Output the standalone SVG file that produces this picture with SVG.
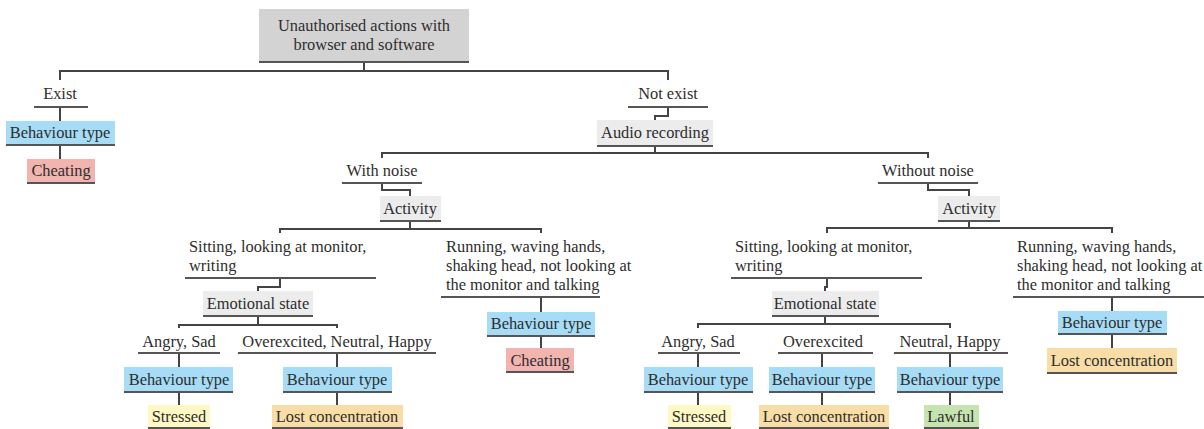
<svg xmlns="http://www.w3.org/2000/svg" width="1204" height="429" viewBox="0 0 1204 429">
<style>
text{font-family:"Liberation Serif","Times New Roman",serif;font-size:16.4px;fill:#2e2e2e}
.c{text-anchor:middle}
.ul{stroke:#555;stroke-width:2;fill:none}
.con{stroke:#444;stroke-width:2;fill:none}
.root{fill:#d3d3d3}
.gray{fill:#ececec}
.blue{fill:#a6dcf5}
.pink{fill:#f2b4ae}
.yel{fill:#fdf8c4}
.org{fill:#f8dea6}
.grn{fill:#c6e4b0}
</style>
<rect width="1204" height="429" fill="#fff"/>
<g id="connectors">
<path class="con" d="M364 62V71M60 80V71H668V80"/>
<path class="con" d="M60 107V121M60 145V159"/>
<path class="con" d="M668 107V116H655V120"/>
<path class="con" d="M655 146V153M382 158V153H928V158"/>
<path class="con" d="M382 183V190H410V196"/>
<path class="con" d="M410 221V229M280 233V229H541V233"/>
<path class="con" d="M280 278V287H258V291"/>
<path class="con" d="M541 297V312M541 336V348"/>
<path class="con" d="M258 316V325M179 328V325H337V328"/>
<path class="con" d="M179 353V367M179 392V405M337 353V367M337 392V405"/>
<path class="con" d="M928 183V190H969V196"/>
<path class="con" d="M969 221V228M827 233V228H1112V233"/>
<path class="con" d="M827 278V287H825V291"/>
<path class="con" d="M1112 297V311M1112 334V348"/>
<path class="con" d="M825 316V324M698 328V324H950V328"/>
<path class="con" d="M698 353V367M698 392V405M822 353V367M822 392V405M950 353V367M950 392V405"/>
</g>
<g id="root"><rect class="root" x="259" y="9" width="210" height="53"/><line class="ul" x1="259" y1="62" x2="469" y2="62"/><text class="c" x="364" y="31">Unauthorised actions with</text><text class="c" x="364" y="50">browser and software</text></g>
<g id="exist"><text class="c" x="60" y="99">Exist</text><line class="ul" x1="34" y1="107" x2="88" y2="107"/></g>
<g id="bt-exist"><rect class="blue" x="6" y="121" width="109" height="24"/><line class="ul" x1="6" y1="145" x2="115" y2="145"/><text class="c" x="60" y="138">Behaviour type</text></g>
<g id="cheat-exist"><rect class="pink" x="27" y="159" width="68" height="24"/><line class="ul" x1="27" y1="183" x2="95" y2="183"/><text class="c" x="61" y="176">Cheating</text></g>
<g id="notexist"><text class="c" x="668" y="99">Not exist</text><line class="ul" x1="628" y1="107" x2="708" y2="107"/></g>
<g id="audio"><rect class="gray" x="597" y="120" width="116" height="26"/><line class="ul" x1="597" y1="146" x2="713" y2="146"/><text class="c" x="655" y="138">Audio recording</text></g>
<g id="withnoise"><text class="c" x="382" y="176">With noise</text><line class="ul" x1="342" y1="183" x2="422" y2="183"/></g>
<g id="activity1"><rect class="gray" x="380" y="196" width="61" height="25"/><line class="ul" x1="380" y1="221" x2="441" y2="221"/><text class="c" x="410" y="214">Activity</text></g>
<g id="sit1"><text x="189" y="252">Sitting, looking at monitor,</text><text x="189" y="271">writing</text><line class="ul" x1="185" y1="278" x2="376" y2="278"/></g>
<g id="run1"><text x="446" y="252">Running, waving hands,</text><text x="446" y="271">shaking head, not looking at</text><text x="446" y="290">the monitor and talking</text><line class="ul" x1="441" y1="297" x2="600" y2="297"/></g>
<g id="emo1"><rect class="gray" x="203" y="291" width="110" height="25"/><line class="ul" x1="203" y1="316" x2="313" y2="316"/><text class="c" x="258" y="309">Emotional state</text></g>
<g id="angry1"><text class="c" x="179" y="347">Angry, Sad</text><line class="ul" x1="138" y1="353" x2="220" y2="353"/></g>
<g id="over1"><text class="c" x="337" y="347">Overexcited, Neutral, Happy</text><line class="ul" x1="238" y1="353" x2="436" y2="353"/></g>
<g id="bt-angry1"><rect class="blue" x="124" y="367" width="109" height="25"/><line class="ul" x1="124" y1="392" x2="233" y2="392"/><text class="c" x="179" y="385">Behaviour type</text></g>
<g id="bt-over1"><rect class="blue" x="283" y="367" width="109" height="25"/><line class="ul" x1="283" y1="392" x2="392" y2="392"/><text class="c" x="337" y="385">Behaviour type</text></g>
<g id="stressed1"><rect class="yel" x="148" y="405" width="62" height="23"/><line class="ul" x1="148" y1="428" x2="210" y2="428"/><text class="c" x="179" y="422">Stressed</text></g>
<g id="lost1"><rect class="org" x="272" y="405" width="131" height="23"/><line class="ul" x1="272" y1="428" x2="403" y2="428"/><text class="c" x="337" y="422">Lost concentration</text></g>
<g id="bt-run1"><rect class="blue" x="487" y="312" width="108" height="24"/><line class="ul" x1="487" y1="336" x2="595" y2="336"/><text class="c" x="541" y="329">Behaviour type</text></g>
<g id="cheat-run1"><rect class="pink" x="506" y="348" width="68" height="24"/><line class="ul" x1="506" y1="372" x2="574" y2="372"/><text class="c" x="540" y="366">Cheating</text></g>
<g id="withoutnoise"><text class="c" x="928" y="176">Without noise</text><line class="ul" x1="878" y1="183" x2="978" y2="183"/></g>
<g id="activity2"><rect class="gray" x="938" y="196" width="62" height="25"/><line class="ul" x1="938" y1="221" x2="1000" y2="221"/><text class="c" x="969" y="214">Activity</text></g>
<g id="sit2"><text x="735" y="252">Sitting, looking at monitor,</text><text x="735" y="271">writing</text><line class="ul" x1="731" y1="278" x2="922" y2="278"/></g>
<g id="run2"><text x="1017" y="252">Running, waving hands,</text><text x="1017" y="271">shaking head, not looking at</text><text x="1017" y="290">the monitor and talking</text><line class="ul" x1="1013" y1="297" x2="1204" y2="297"/></g>
<g id="emo2"><rect class="gray" x="772" y="291" width="107" height="25"/><line class="ul" x1="772" y1="316" x2="879" y2="316"/><text class="c" x="825" y="309">Emotional state</text></g>
<g id="angry2"><text class="c" x="698" y="347">Angry, Sad</text><line class="ul" x1="658" y1="353" x2="740" y2="353"/></g>
<g id="over2"><text class="c" x="823" y="347">Overexcited</text><line class="ul" x1="778" y1="353" x2="873" y2="353"/></g>
<g id="neutral2"><text class="c" x="950" y="347">Neutral, Happy</text><line class="ul" x1="894" y1="353" x2="1008" y2="353"/></g>
<g id="bt-angry2"><rect class="blue" x="644" y="367" width="109" height="25"/><line class="ul" x1="644" y1="392" x2="753" y2="392"/><text class="c" x="698" y="385">Behaviour type</text></g>
<g id="bt-over2"><rect class="blue" x="769" y="367" width="106" height="25"/><line class="ul" x1="769" y1="392" x2="875" y2="392"/><text class="c" x="822" y="385">Behaviour type</text></g>
<g id="bt-neutral2"><rect class="blue" x="897" y="367" width="106" height="25"/><line class="ul" x1="897" y1="392" x2="1003" y2="392"/><text class="c" x="950" y="385">Behaviour type</text></g>
<g id="stressed2"><rect class="yel" x="668" y="405" width="63" height="23"/><line class="ul" x1="668" y1="428" x2="731" y2="428"/><text class="c" x="699" y="422">Stressed</text></g>
<g id="lost2"><rect class="org" x="759" y="405" width="130" height="23"/><line class="ul" x1="759" y1="428" x2="889" y2="428"/><text class="c" x="824" y="422">Lost concentration</text></g>
<g id="lawful2"><rect class="grn" x="924" y="405" width="55" height="23"/><line class="ul" x1="924" y1="428" x2="979" y2="428"/><text class="c" x="951" y="422">Lawful</text></g>
<g id="bt-run2"><rect class="blue" x="1058" y="311" width="109" height="23"/><line class="ul" x1="1058" y1="334" x2="1167" y2="334"/><text class="c" x="1112" y="328">Behaviour type</text></g>
<g id="lost-run2"><rect class="org" x="1047" y="348" width="130" height="25"/><line class="ul" x1="1047" y1="373" x2="1177" y2="373"/><text class="c" x="1112" y="366">Lost concentration</text></g>
</svg>
